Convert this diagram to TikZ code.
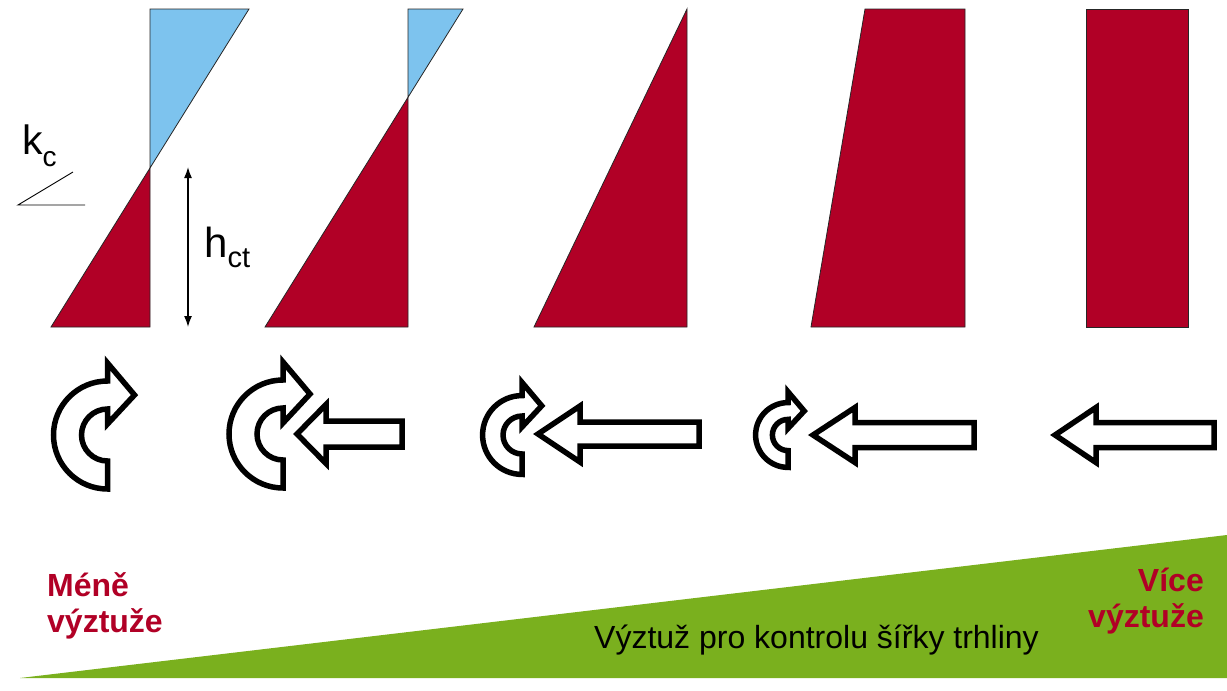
\documentclass[tikz,border=0pt]{standalone}
\usepackage{fontspec}
\setmainfont{Liberation Sans}
\usetikzlibrary{arrows.meta}
\definecolor{cred}{RGB}{177,0,38}
\definecolor{cblue}{RGB}{125,195,238}
\definecolor{cgreen}{RGB}{122,176,30}
\newcommand\mycurvedarrow[3]{%
  \begin{scope}[shift={(#1,#2)},x=#3pt,y=#3pt]
    \draw[bigarrow] (0,-54) arc[start angle=-90,end angle=-270,radius=54]
      -- (0,72) -- (27,40) -- (0,11) -- (0,26)
      arc[start angle=90,end angle=270,radius=26] -- cycle;
  \end{scope}}
\newcommand\mystraightarrow[6]{%
  \draw[bigarrow] (#1,#4) -- (#2,{#4-#5}) -- (#2,{#4-#6}) -- (#3,{#4-#6})
    -- (#3,{#4+#6}) -- (#2,{#4+#6}) -- (#2,{#4+#5}) -- cycle;}
\begin{document}
\begin{tikzpicture}[x=1pt,y=-1pt,
  redfill/.style={fill=cred,draw=black!85,line width=0.8pt,line join=miter},
  bluefill/.style={fill=cblue,draw=black!85,line width=0.8pt,line join=miter},
  bigarrow/.style={fill=white,draw=black,line width=5.5pt,line join=miter,miter limit=10},
  thinline/.style={draw=black,line width=0.9pt},
  redtext/.style={text=cred,font=\bfseries\fontsize{32}{36}\selectfont,inner sep=0pt},
  blacktext/.style={text=black,font=\fontsize{32}{36}\selectfont,inner sep=0pt}
]
\useasboundingbox (0,0) rectangle (1227,691);
\fill[white] (0,0) rectangle (1227,691);

% green wedge
\fill[cgreen] (20,678) -- (1227,535) -- (1227,678) -- cycle;

% stress diagram 1
\draw[bluefill] (150,9) -- (249,9) -- (150,168) -- cycle;
\draw[redfill] (150,168) -- (150,327) -- (51,327) -- cycle;
% stress diagram 2
\draw[bluefill] (408,9) -- (463,9) -- (408,97.3) -- cycle;
\draw[redfill] (408,97.3) -- (408,327) -- (265,327) -- cycle;
% stress diagram 3
\draw[redfill] (534,327) -- (687,9) -- (687,327) -- cycle;
% stress diagram 4
\draw[redfill] (811,327) -- (865,9) -- (965,9) -- (965,327) -- cycle;
% stress diagram 5
\draw[redfill] (1086,9) rectangle (1188,327);

% k_c
\node[anchor=base west,inner sep=0pt,font=\fontsize{41}{41}\selectfont] (kc) at (22,154)
  {k\raisebox{-12pt}{\fontsize{28}{28}\selectfont c}};
\coordinate (kcA) at (18,205);
\coordinate (kcB) at (85,205);
\coordinate (kcC) at (73,172);
\draw[thinline] (kcB) -- (kcA) -- (kcC);

% h_ct dimension
\coordinate (hctTop) at (188,167);
\coordinate (hctBot) at (188,327);
\draw[line width=1.5pt,{Latex[length=11pt,width=8pt]}-{Latex[length=11pt,width=8pt]}] (hctTop) -- (hctBot);
\node[anchor=base west,inner sep=0pt,font=\fontsize{42}{42}\selectfont] (hct) at (204,257)
  {h\raisebox{-10pt}{\fontsize{29}{29}\selectfont ct}};

% moment / force arrows
\mycurvedarrow{107.5}{435}{1}
\mycurvedarrow{283}{434}{1}
\mycurvedarrow{522}{435}{0.73}
\mycurvedarrow{788}{435}{0.6}

\mystraightarrow{297}{326}{402}{434}{29.5}{13}
\mystraightarrow{538}{580}{699}{434}{28}{12}
\mystraightarrow{813}{855}{974}{435}{27.5}{12.5}
\mystraightarrow{1055}{1096}{1214}{435}{27.5}{12.5}

% texts
\node[redtext,anchor=base west,align=left] (less) at (47,632) {Méně\\výztuže};
\node[redtext,anchor=base east,align=right] (more) at (1204,627) {Více\\výztuže};
\node[blacktext,anchor=base west] (main) at (594,648) {Výztuž pro kontrolu šířky trhliny};
\end{tikzpicture}
\end{document}
